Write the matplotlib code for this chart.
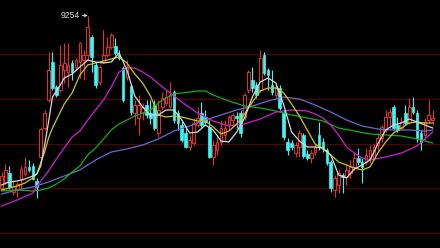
import numpy as np
import matplotlib
matplotlib.use("Agg")
import matplotlib.pyplot as plt

# candle data (open, close, high, low)
opens = [8564, 8588, 8624, 8548, 8556, 8596, 8620, 8648, 8652, 8592,
         8688, 8804, 8916, 9068, 8968, 8956, 9036, 9028, 9064, 9048,
         9068, 9076, 9096, 9168, 9056, 8988, 9068, 9096, 9128, 9132,
         9096, 9044, 9008, 8972, 8864, 8844, 8864, 8896, 8864, 8896,
         8784, 8888, 8904, 8888, 8948, 8864, 8816, 8784, 8728, 8744,
         8816, 8864, 8848, 8808, 8688, 8716, 8748, 8776, 8816, 8836,
         8852, 8864, 8848, 8956, 8996, 8976, 8956, 9096, 9036, 8976,
         8936, 8964, 8864, 8748, 8744, 8704, 8728, 8776, 8700, 8684,
         8708, 8776, 8748, 8716, 8668, 8556, 8576, 8616, 8608, 8624,
         8648, 8684, 8668, 8668, 8684, 8684, 8736, 8764, 8796, 8848,
         8888, 8816, 8804, 8864, 8828, 8888, 8864, 8784, 8776, 8836,
         8836]
closes = [8612, 8636, 8568, 8572, 8580, 8640, 8648, 8636, 8600, 8568,
          8800, 8864, 9036, 8964, 8936, 9056, 9064, 9056, 9028, 9076,
          9144, 9096, 9208, 9088, 8976, 9048, 9096, 9128, 9176, 9104,
          9084, 8916, 9048, 8868, 8896, 8896, 8888, 8856, 8844, 8804,
          8876, 8924, 8928, 8936, 8836, 8824, 8756, 8728, 8756, 8824,
          8844, 8816, 8828, 8688, 8736, 8748, 8804, 8804, 8848, 8856,
          8844, 8784, 8936, 9028, 8964, 8936, 9084, 9024, 9016, 8948,
          8968, 8884, 8768, 8716, 8728, 8736, 8784, 8692, 8684, 8704,
          8728, 8728, 8724, 8664, 8564, 8604, 8624, 8608, 8636, 8648,
          8684, 8668, 8648, 8696, 8716, 8728, 8764, 8808, 8848, 8868,
          8804, 8796, 8828, 8824, 8888, 8868, 8764, 8748, 8828, 8856,
          8844]
highs = [8628, 8660, 8652, 8596, 8588, 8652, 8688, 8676, 8664, 8604,
         8808, 8876, 9108, 9108, 8976, 9136, 9144, 9144, 9076, 9084,
         9148, 9116, 9254, 9176, 9068, 9056, 9196, 9168, 9184, 9164,
         9116, 9052, 9076, 8980, 8916, 8936, 8904, 8916, 8916, 8916,
         8916, 8948, 8956, 8988, 8956, 8876, 8836, 8804, 8776, 8844,
         8888, 8908, 8876, 8836, 8756, 8776, 8836, 8836, 8856, 8864,
         8868, 8876, 8944, 9036, 9048, 8988, 9116, 9108, 9044, 9036,
         8984, 8976, 8876, 8764, 8756, 8748, 8796, 8784, 8716, 8716,
         8744, 8828, 8764, 8724, 8676, 8616, 8636, 8624, 8656, 8676,
         8708, 8724, 8684, 8724, 8736, 8744, 8784, 8816, 8876, 8884,
         8896, 8848, 8848, 8896, 8924, 8928, 8876, 8796, 8844, 8916,
         8876]
lows = [8556, 8580, 8560, 8536, 8528, 8556, 8612, 8628, 8596, 8524,
        8684, 8796, 8908, 8956, 8928, 8948, 8984, 8968, 8996, 9036,
        9004, 8996, 9076, 9028, 8964, 8976, 9064, 9088, 9120, 9096,
        9076, 8908, 8996, 8856, 8816, 8776, 8836, 8844, 8820, 8796,
        8768, 8876, 8896, 8884, 8824, 8796, 8748, 8724, 8716, 8736,
        8808, 8808, 8816, 8684, 8656, 8696, 8736, 8756, 8796, 8816,
        8804, 8768, 8836, 8944, 8948, 8924, 8948, 9016, 8956, 8936,
        8924, 8876, 8756, 8696, 8716, 8688, 8688, 8684, 8676, 8664,
        8696, 8716, 8708, 8656, 8548, 8528, 8544, 8544, 8576, 8604,
        8636, 8656, 8584, 8656, 8664, 8676, 8716, 8748, 8788, 8804,
        8796, 8788, 8796, 8816, 8820, 8860, 8748, 8716, 8756, 8824,
        8816]

# moving average lines, sampled at candle indices
ma5_idx = [0, 2, 4, 6, 8, 9, 10, 11, 12, 13, 15, 16, 18, 20, 22, 24, 26, 28, 30,
           32, 34, 36, 38, 40, 42, 44, 46, 48, 50, 52, 54, 56, 58, 60, 62, 64,
           66, 68, 70, 72, 74, 76, 78, 80, 82, 84, 86, 88, 90, 92, 94, 96, 98,
           100, 102, 104, 106, 108, 110]
ma5_val = [8576, 8588, 8592, 8600, 8612, 8620, 8652, 8736, 8828, 8928, 8976, 9004,
           9020, 9048, 9076, 9068, 9064, 9068, 9104, 9036, 8932, 8888, 8856, 8856,
           8876, 8876, 8836, 8784, 8788, 8816, 8796, 8752, 8748, 8788, 8844, 8928,
           8988, 9004, 8984, 8896, 8788, 8752, 8728, 8728, 8724, 8696, 8616, 8604,
           8640, 8656, 8676, 8740, 8796, 8816, 8824, 8840, 8828, 8816, 8804]
ma10_idx = ma5_idx
ma10_val = [8556, 8564, 8572, 8584, 8604, 8620, 8664, 8708, 8764, 8804, 8868, 8900,
            8944, 9016, 9056, 9064, 9072, 9080, 9088, 9064, 9020, 8984, 8932, 8856,
            8848, 8852, 8848, 8840, 8832, 8832, 8808, 8780, 8792, 8820, 8860, 8908,
            8952, 8964, 8964, 8944, 8900, 8852, 8796, 8740, 8720, 8696, 8668, 8656,
            8644, 8636, 8648, 8704, 8748, 8784, 8804, 8824, 8828, 8824, 8824]
ma20_idx = [0, 4, 8, 10, 12, 14, 16, 18, 20, 22, 24, 26, 28, 30, 32, 34, 36, 38,
            42, 46, 50, 54, 58, 62, 66, 70, 74, 78, 80, 82, 84, 86, 88, 90, 92, 94,
            98, 102, 106, 108, 110]
ma20_val = [8492, 8516, 8544, 8592, 8632, 8680, 8724, 8768, 8792, 8836, 8876, 8916,
            8968, 9028, 9044, 9044, 9028, 9008, 8956, 8908, 8864, 8832, 8812, 8820,
            8840, 8868, 8876, 8872, 8860, 8844, 8816, 8776, 8728, 8704, 8684, 8676,
            8688, 8704, 8732, 8760, 8788]
ma30_idx = [0, 4, 8, 10, 12, 14, 16, 18, 20, 22, 24, 26, 28, 30, 32, 34, 36, 38,
            40, 42, 44, 46, 48, 50, 52, 54, 56, 58, 62, 66, 70, 74, 78, 82, 86, 90,
            94, 98, 102, 106, 110]
ma30_val = [8552, 8556, 8552, 8556, 8564, 8580, 8600, 8628, 8652, 8696, 8724, 8760,
            8796, 8820, 8836, 8852, 8864, 8876, 8904, 8924, 8940, 8944, 8948, 8952,
            8952, 8936, 8924, 8912, 8892, 8884, 8872, 8856, 8844, 8832, 8804, 8792,
            8780, 8776, 8772, 8760, 8744]
ma60_idx = [0, 4, 8, 12, 16, 20, 24, 28, 32, 36, 40, 44, 48, 52, 56, 60, 64, 68,
            72, 76, 80, 84, 88, 92, 96, 100, 104, 108, 110]
ma60_val = [8540, 8556, 8568, 8588, 8612, 8636, 8676, 8708, 8720, 8736, 8760, 8792,
            8812, 8836, 8856, 8876, 8892, 8912, 8928, 8920, 8896, 8868, 8836, 8812,
            8800, 8796, 8796, 8792, 8796]

grid_levels = [9100, 8920, 8742, 8564, 8384]
peak_label = "9254"


def main():
    fig = plt.figure(figsize=(4.4, 2.48), dpi=100, facecolor="black")
    ax = fig.add_axes([0, 0, 1, 1])
    ax.set_facecolor("black")

    for lv in grid_levels:
        ax.axhline(lv, color="#5c0000", lw=0.7, zorder=0)

    o = np.array(opens)
    c = np.array(closes)
    h = np.array(highs)
    l = np.array(lows)
    x = np.arange(len(o))
    up = c >= o
    red = "#e8302c"
    cyan = "#3ff5f5"

    # wicks
    ax.vlines(x[up], l[up], h[up], color=red, lw=0.8, zorder=2)
    ax.vlines(x[~up], l[~up], h[~up], color=cyan, lw=0.8, zorder=2)

    # bodies: hollow red for up, filled cyan for down
    bot = np.minimum(o, c)
    ht = np.maximum(np.abs(c - o), 3)
    ax.bar(x[up], ht[up], bottom=bot[up], width=0.68, facecolor="black",
           edgecolor=red, linewidth=0.7, zorder=3)
    ax.bar(x[~up], ht[~up], bottom=bot[~up], width=0.68, facecolor=cyan,
           edgecolor=cyan, linewidth=0.5, zorder=3)

    # moving averages
    ax.plot(ma60_idx, ma60_val, color="#6a6ad0", lw=0.9, zorder=4)
    ax.plot(ma30_idx, ma30_val, color="#10b010", lw=0.9, zorder=4)
    ax.plot(ma20_idx, ma20_val, color="#d020d0", lw=0.9, zorder=4)
    ax.plot(ma10_idx, ma10_val, color="#c8c818", lw=0.9, zorder=5)
    ax.plot(ma5_idx, ma5_val, color="#d8d8d8", lw=0.9, zorder=6)

    # peak label with arrow
    pk = int(np.argmax(h))
    ax.annotate(peak_label, xy=(pk, h[pk]), xytext=(-6, 0), textcoords="offset points",
                ha="right", va="center", color="#e0e0e0", fontsize=6.2,
                family="Liberation Sans",
                arrowprops=dict(arrowstyle="->", color="#e0e0e0", lw=0.6,
                                shrinkA=0, shrinkB=0, mutation_scale=5))

    ax.set_xlim(-0.383, 111.86)
    ax.set_ylim(8324, 9316)
    ax.axis("off")

    fig.savefig("out.png", dpi=100, facecolor="black")


if __name__ == "__main__":
    main()
